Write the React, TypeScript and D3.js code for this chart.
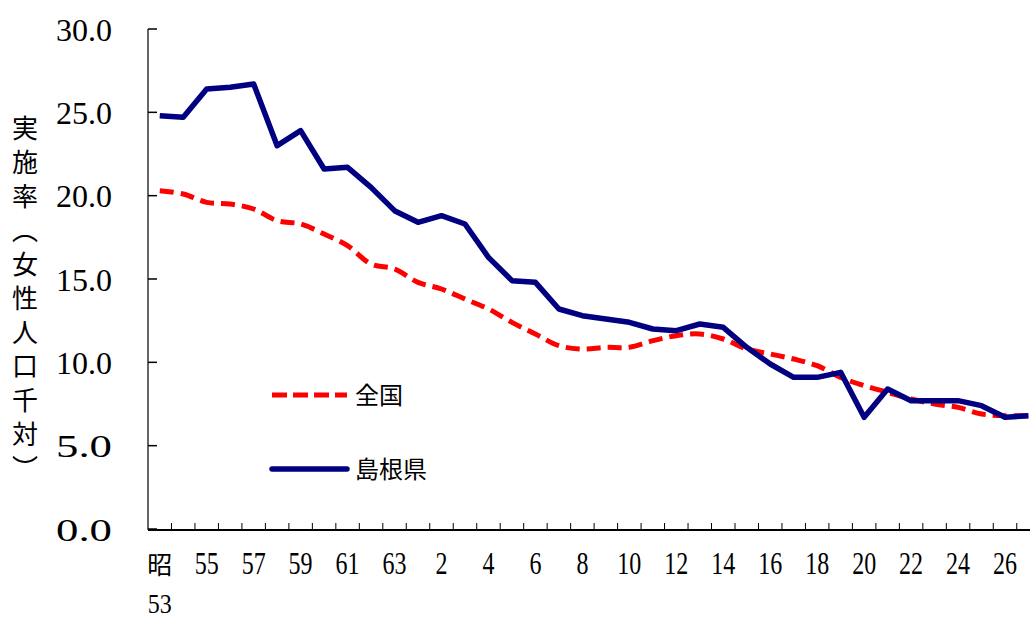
import React from 'react';
import * as d3 from 'd3';

// 年次（昭和53年〜平成27年）
const years = [
  '昭53', '54', '55', '56', '57', '58', '59', '60', '61', '62', '63',
  '元', '2', '3', '4', '5', '6', '7', '8', '9', '10', '11', '12', '13', '14',
  '15', '16', '17', '18', '19', '20', '21', '22', '23', '24', '25', '26', '27',
];

// 全国
const national = [
  20.3, 20.1, 19.6, 19.5, 19.2, 18.5, 18.3, 17.7, 17.0, 15.9, 15.6, 14.8,
  14.4, 13.8, 13.2, 12.4, 11.7, 11.0, 10.8, 10.9, 10.9, 11.3, 11.6, 11.7,
  11.4, 10.8, 10.5, 10.2, 9.8, 9.1, 8.6, 8.2, 7.8, 7.5, 7.3, 6.9, 6.8, 6.8,
];

// 島根県
const shimane = [
  24.8, 24.7, 26.4, 26.5, 26.7, 23.0, 23.9, 21.6, 21.7, 20.5, 19.1, 18.4,
  18.8, 18.3, 16.3, 14.9, 14.8, 13.2, 12.8, 12.6, 12.4, 12.0, 11.9, 12.3,
  12.1, 10.9, 9.9, 9.1, 9.1, 9.4, 6.7, 8.4, 7.7, 7.7, 7.7, 7.4, 6.7, 6.8,
];

const yTicks = [0, 5, 10, 15, 20, 25, 30];
const xLabelYears = years.filter((_, i) => i % 2 === 0);

const width = 1030;
const height = 621;
const left = 148;
const band = 23.48;
const top = 29;
const bottom = 529;

const digitFont = '"Liberation Serif", serif';
const jpFont = '"Noto Sans CJK JP", sans-serif';

const App: React.FC = () => {
  const x = d3
    .scaleBand<string>()
    .domain(years)
    .range([left, left + band * years.length])
    .paddingInner(0)
    .paddingOuter(0);
  const y = d3.scaleLinear().domain([0, 30]).range([bottom, top]);
  const cx = (d: string) => (x(d) ?? 0) + x.bandwidth() / 2;

  const straight = d3
    .line<number>()
    .x((_, i) => cx(years[i]))
    .y((d) => y(d));
  const smooth = d3
    .line<number>()
    .x((_, i) => cx(years[i]))
    .y((d) => y(d))
    .curve(d3.curveCatmullRom.alpha(0.5));

  const xEnd = left + band * years.length;

  return (
    <svg
      width={width}
      height={height}
      style={{ position: 'absolute', left: 0, top: 0, background: '#fff' }}
    >
      {/* y axis */}
      <line x1={left} x2={left} y1={top} y2={bottom + 1} stroke="#333" strokeWidth={1.5} />
      {yTicks.map((t) => (
        <g key={t}>
          <line x1={left} x2={left + 9} y1={y(t)} y2={y(t)} stroke="#000" strokeWidth={1.5} />
          <text
            x={112}
            y={y(t)}
            dy="0.36em"
            textAnchor="end"
            fontFamily={digitFont}
            fontSize={32}
            textLength={56}
            lengthAdjust="spacingAndGlyphs"
          >
            {t.toFixed(1)}
          </text>
        </g>
      ))}

      {/* x axis */}
      <line x1={left} x2={xEnd} y1={bottom + 1} y2={bottom + 1} stroke="#000" strokeWidth={2} />
      {years.slice(1).map((d) => (
        <line
          key={d}
          x1={x(d) ?? 0}
          x2={x(d) ?? 0}
          y1={bottom + 1}
          y2={bottom - 6}
          stroke="#000"
          strokeWidth={1}
        />
      ))}
      {xLabelYears.map((d) =>
        d === '昭53' ? (
          <text key={d} x={cx(d)} y={574} textAnchor="middle">
            <tspan x={cx(d)} fontFamily={jpFont} fontSize={25}>
              昭
            </tspan>
            <tspan
              x={cx(d)}
              y={613}
              fontFamily={digitFont}
              fontSize={28}
              textLength={24}
              lengthAdjust="spacingAndGlyphs"
            >
              53
            </tspan>
          </text>
        ) : (
          <text
            key={d}
            x={cx(d)}
            y={574}
            textAnchor="middle"
            fontFamily={digitFont}
            fontSize={32}
            textLength={d.length * 12}
            lengthAdjust="spacingAndGlyphs"
          >
            {d}
          </text>
        ),
      )}

      {/* y axis title */}
      <text
        x={25}
        y={115}
        fontFamily={jpFont}
        fontSize={26}
        letterSpacing={8}
        style={{ writingMode: 'vertical-rl' }}
      >
        実施率（女性人口千対）
      </text>

      {/* series */}
      <path
        d={smooth(national) ?? ''}
        fill="none"
        stroke="#ff0000"
        strokeWidth={5}
        strokeDasharray="14 7"
      />
      <path
        d={straight(shimane) ?? ''}
        fill="none"
        stroke="#000080"
        strokeWidth={5.5}
        strokeLinejoin="round"
      />

      {/* legend */}
      <line x1={272} x2={347} y1={395} y2={395} stroke="#ff0000" strokeWidth={5} strokeDasharray="15 6" />
      <text x={355} y={395} dy="0.36em" fontFamily={jpFont} fontSize={24}>
        全国
      </text>
      <line x1={272} x2={347} y1={469} y2={469} stroke="#000080" strokeWidth={5.5} strokeLinecap="round" />
      <text x={355} y={469} dy="0.36em" fontFamily={jpFont} fontSize={24}>
        島根県
      </text>
    </svg>
  );
};

export default App;
